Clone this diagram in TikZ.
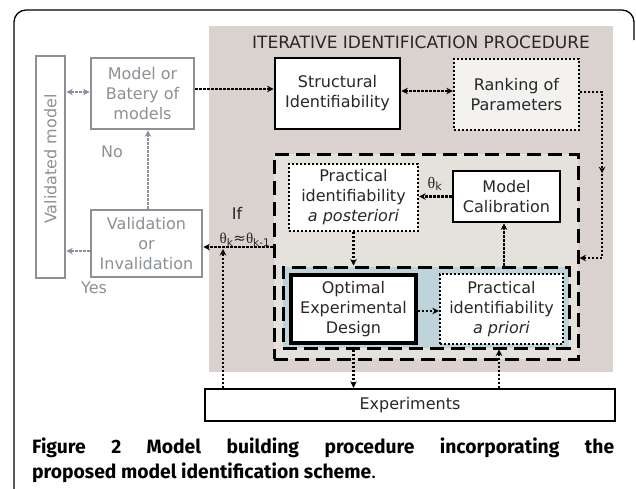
\documentclass[tikz,border=0pt]{standalone}
\usepackage{fontspec}
\setmainfont{DejaVu Sans}
\newfontfamily\capfont{Fira Sans}
\newfontfamily\grk{Liberation Serif}
\usetikzlibrary{arrows.meta,decorations.markings,calc}
\definecolor{bgbeige}{RGB}{217,210,207}
\definecolor{dashfill}{RGB}{228,226,218}
\definecolor{bluefill}{RGB}{191,211,218}
\definecolor{rankfill}{RGB}{243,242,240}
\definecolor{grayc}{RGB}{139,145,150}
\definecolor{txt}{RGB}{40,40,40}
\begin{document}
\begin{tikzpicture}[x=1pt,y=-1pt,
  box/.style={draw, fill=white, inner sep=0pt, align=center,
    font=\fontsize{16}{20}\selectfont, text=txt},
  thickbox/.style={box, line width=2.8pt},
  dotbox/.style={box, line width=2.3pt, dash pattern=on 2.3pt off 1.7pt},
  graybox/.style={box, draw=grayc, text=grayc, line width=2.6pt},
  dashbox/.style={draw, inner sep=0pt, line width=3pt, dash pattern=on 14pt off 7pt},
  tip/.style={-{Stealth[length=6.5pt,width=6.5pt]}},
  dotline/.style={line width=2.3pt, dash pattern=on 2.3pt off 1.7pt, tip},
  dotboth/.style={dotline, {Stealth[length=6.5pt,width=6.5pt]}-{Stealth[length=6.5pt,width=6.5pt]}},
  grayline/.style={dotline, draw=grayc},
  grayboth/.style={dotboth, draw=grayc},
  lbl/.style={inner sep=0pt, text=txt, font=\fontsize{16}{20}\selectfont},
  graylbl/.style={lbl, text=grayc},
  captxt/.style={anchor=base west, inner sep=0pt, font=\capfont\fontsize{19.3}{23}\selectfont}
]
\useasboundingbox (0,0) rectangle (636,488);
% outer frame
\draw[line width=1.3pt, rounded corners=12pt] (14,489) -- (14,10) -- (634,10) -- (634,40);
% iterative region
\fill[bgbeige] (209,26) rectangle (613,372);
\node[lbl, font=\fontsize{17}{20}\selectfont] (title) at (421,42) {ITERATIVE IDENTIFICATION PROCEDURE};
% dashed regions
\node[dashbox, fill=dashfill, minimum width=304pt, minimum height=205pt] (outer) at (426,256.5) {};
\node[dashbox, fill=bluefill, minimum width=286pt, minimum height=81pt] (inner) at (426,307.5) {};
% boxes
\node[graybox, minimum width=29pt, minimum height=222pt] (valid) at (50.5,167) {\rotatebox{90}{\hspace*{16pt}Validated model}};
\node[graybox, minimum width=103pt, minimum height=71pt] (model) at (142.5,93.5) {Model or\\Batery of\\models};
\node[graybox, minimum width=111pt, minimum height=67pt] (valn) at (146.5,243.5) {Validation\\or\\Invalidation};
\node[thickbox, minimum width=125pt, minimum height=71pt] (struct) at (337.5,93.5) {Structural\\Identifiability};
\node[dotbox, fill=rankfill, minimum width=125pt, minimum height=71pt] (rank) at (516.5,94.5) {Ranking of\\Parameters};
\node[dotbox, minimum width=129pt, minimum height=67pt] (post) at (353.5,197.5) {Practical\\identifiability\\\textit{a posteriori}};
\node[thickbox, minimum width=107pt, minimum height=51pt] (calib) at (506.5,196.5) {Model\\Calibration};
\node[thickbox, line width=3.2pt, minimum width=125pt, minimum height=68pt] (oed) at (353.5,309) {Optimal\\Experimental\\Design};
\node[dotbox, minimum width=123pt, minimum height=70pt] (prior) at (501.5,309) {Practical\\identifiability\\\textit{a priori}};
\node[box, line width=2.3pt, minimum width=410pt, minimum height=32pt] (exper) at (410,405) {Experiments};
% labels
\node[graylbl] (no) at (112,152) {No};
\node[graylbl] (yes) at (94,288) {Yes};
\node[lbl] (thk) at (435,184) {{\grk θ}\textsubscript{k}};
\node[lbl] (if) at (237,213) {If};
\node[lbl, font=\fontsize{15}{18}\selectfont] (cond) at (245,240) {{\grk θ}\textsubscript{k}≈{\grk θ}\textsubscript{k-1}};
% connectors
\coordinate (rt) at (602,258);
\coordinate (jn) at (223,247);
\draw[dotline] ([yshift=4.5pt]model.east) -- ([yshift=4.5pt]struct.west);
\draw[dotboth] ([yshift=2.5pt]struct.east) -- ([yshift=3.5pt]rank.west);
\draw[dotline, postaction={decorate}, decoration={markings, mark=at position 0.49 with {\arrow{Stealth[length=6.5pt,width=6.5pt]}}}]
  ([yshift=2.5pt]rank.east) -| (rt) -- (rt -| outer.east);
\draw[dotline] (calib.west) -- (calib.west -| post.east);
\draw[dotline] (post.south) -- (post.south |- inner.north);
\draw[dotline] ([yshift=-2pt]oed.east) -- ([yshift=-2pt]oed.east -| prior.west);
\draw[dotline] ([xshift=-2.5pt]calib.south |- inner.north) -- ([xshift=-2.5pt]calib.south);
\draw[dotline] (oed.south |- inner.south) -- (oed.south |- exper.north);
\draw[dotline] ([xshift=-2.5pt]prior.south |- exper.north) -- ([xshift=-2.5pt]prior.south |- inner.south);
\draw[dotline] (jn -| outer.west) -- (jn -| valn.east);
\draw[dotline] (jn |- exper.north) -- ([yshift=-2pt]jn);
\draw[grayline] ([xshift=1.5pt]valn.north) -- ([xshift=1.5pt]valn.north |- model.south);
\draw[grayline] ([yshift=-7.5pt]valn.west) -- ([yshift=-7.5pt]valn.west -| valid.east);
\draw[grayboth] ([yshift=1.5pt]model.west) -- ([yshift=1.5pt]model.west -| valid.east);
% caption
\node[captxt] (cap1) at (32,453)
  {\makebox[582pt][s]{\bfseries Figure 2 Model building procedure incorporating the}};
\node[captxt] (cap2) at (32,478)
  {\bfseries proposed model identification scheme\mdseries.};
\end{tikzpicture}
\end{document}
